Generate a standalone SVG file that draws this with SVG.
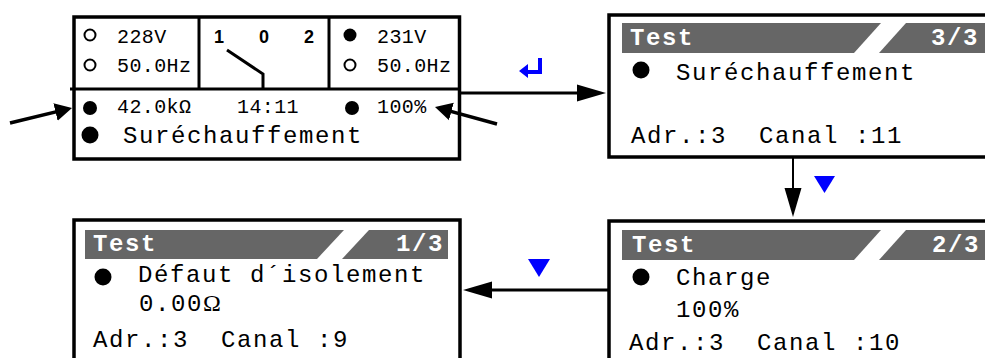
<svg xmlns="http://www.w3.org/2000/svg" width="985" height="358" viewBox="0 0 985 358">
  <defs>
    <style>
      .box { fill: #fff; stroke: #000; stroke-width: 3.5; }
      .div { stroke: #000; stroke-width: 3; fill: none; }
      .hdr { fill: #666; }
      .big { font-family: "Liberation Mono", "DejaVu Sans Mono", monospace; font-size: 24px; letter-spacing: 1.6px; fill: #000; }
      .sm { font-family: "Liberation Mono", "DejaVu Sans Mono", monospace; font-size: 20px; letter-spacing: 0.4px; fill: #000; }
      .ht { font-family: "Liberation Mono", "DejaVu Sans Mono", monospace; font-weight: bold; font-size: 24px; letter-spacing: 1.6px; fill: #fff; }
      .sw { font-family: "Liberation Sans", Arial, sans-serif; font-weight: bold; font-size: 18px; fill: #000; }
      .omega { font-family: "Liberation Serif", serif; font-size: 24px; letter-spacing: 0; }
      .open { fill: #fff; stroke: #000; stroke-width: 2; }
      .conn { stroke: #000; fill: none; }
      .blue { fill: #0000ff; }
    </style>
    <marker id="ah" markerUnits="userSpaceOnUse" markerWidth="30" markerHeight="18" refX="19" refY="9" orient="auto">
      <path d="M0,0.5 L29,9 L0,17.5 Z" fill="#000"/>
    </marker>
    <marker id="ahs" markerUnits="userSpaceOnUse" markerWidth="18" markerHeight="19" refX="11" refY="9.5" orient="auto">
      <path d="M0,0.5 L17,9.5 L0,18.5 Z" fill="#000"/>
    </marker>
  </defs>

  <!-- Main status screen -->
  <g id="main-screen">
    <rect class="box" x="74" y="17" width="385.5" height="142"/>
    <line class="div" x1="70" y1="89" x2="459" y2="89"/>
    <line class="div" x1="199" y1="17" x2="199" y2="89"/>
    <line class="div" x1="329" y1="17" x2="329" y2="89"/>
    <!-- source 1 -->
    <circle class="open" cx="90" cy="35" r="5.5"/>
    <text class="sm" x="117" y="43">228V</text>
    <circle class="open" cx="90" cy="65" r="5.5"/>
    <text class="sm" x="117" y="72">50.0Hz</text>
    <!-- switch -->
    <text class="sw" x="214" y="43">1</text>
    <text class="sw" x="259" y="43">0</text>
    <text class="sw" x="304" y="43">2</text>
    <polyline class="div" points="227,50 263,74 263,89"/>
    <!-- source 2 -->
    <circle cx="350" cy="35" r="6.5"/>
    <text class="sm" x="377" y="43">231V</text>
    <circle class="open" cx="350" cy="65" r="5.5"/>
    <text class="sm" x="377" y="72">50.0Hz</text>
    <!-- bottom part -->
    <circle cx="90" cy="108" r="7"/>
    <text class="sm" x="117" y="113">42.0kΩ</text>
    <text class="sm" x="237" y="113">14:11</text>
    <circle cx="352" cy="108" r="7"/>
    <text class="sm" x="377" y="113">100%</text>
    <circle cx="90" cy="135" r="8.5"/>
    <text class="big" x="123" y="143">Suréchauffement</text>
  </g>

  <!-- Test 3/3 -->
  <g id="test-3">
    <rect class="box" x="609" y="15" width="400" height="142"/>
    <path class="hdr" d="M622,23 H881 L854,53 H622 Z"/>
    <path class="hdr" d="M906,23 H985 V53 H879 Z"/>
    <text class="ht" x="630" y="45">Test</text>
    <text class="ht" x="979" y="45" text-anchor="end">3/3</text>
    <circle cx="641" cy="70" r="8.5"/>
    <text class="big" x="676" y="80">Suréchauffement</text>
    <text class="big" x="631" y="143" xml:space="preserve">Adr.:3  Canal :11</text>
  </g>

  <!-- Test 2/3 -->
  <g id="test-2">
    <rect class="box" x="609" y="221" width="400" height="200"/>
    <path class="hdr" d="M622,230 H881 L854,260 H622 Z"/>
    <path class="hdr" d="M906,230 H985 V260 H879 Z"/>
    <text class="ht" x="632" y="252">Test</text>
    <text class="ht" x="980" y="252" text-anchor="end">2/3</text>
    <circle cx="641" cy="277" r="8.5"/>
    <text class="big" x="676" y="285">Charge</text>
    <text class="big" x="676" y="317">100%</text>
    <text class="big" x="629" y="350" xml:space="preserve">Adr.:3  Canal :10</text>
  </g>

  <!-- Test 1/3 -->
  <g id="test-1">
    <rect class="box" x="74" y="220" width="386" height="200"/>
    <path class="hdr" d="M85,230 H344 L317,259 H85 Z"/>
    <path class="hdr" d="M369,230 H448 V259 H342 Z"/>
    <text class="ht" x="93" y="251">Test</text>
    <text class="ht" x="444" y="251" text-anchor="end">1/3</text>
    <circle cx="103" cy="277" r="8.5"/>
    <text class="big" x="138" y="282">Défaut d´isolement</text>
    <text class="big" x="139" y="311">0.00<tspan class="omega">Ω</tspan></text>
    <text class="big" x="93" y="347" xml:space="preserve">Adr.:3  Canal :9</text>
  </g>

  <!-- Connectors -->
  <g id="connectors">
    <line class="conn" stroke-width="3" x1="459" y1="93" x2="596" y2="93" marker-end="url(#ah)"/>
    <line class="conn" stroke-width="2" x1="793" y1="157" x2="793" y2="207" marker-end="url(#ah)"/>
    <line class="conn" stroke-width="3" x1="609" y1="290" x2="473" y2="290" marker-end="url(#ah)"/>
    <line class="conn" stroke-width="3.5" x1="10" y1="123" x2="66.2" y2="109.4" marker-end="url(#ahs)"/>
    <line class="conn" stroke-width="3.5" x1="497" y1="124" x2="440.8" y2="108.6" marker-end="url(#ahs)"/>
  </g>

  <!-- Key indicators -->
  <g id="keys">
    <path class="blue" d="M538,58 H542 V74 H528 V78 L519,71 L528,64 V70 H538 Z"/>
    <polygon class="blue" points="814,176 835,176 824.5,193"/>
    <polygon class="blue" points="528,259 550,259 539,277"/>
  </g>
</svg>
